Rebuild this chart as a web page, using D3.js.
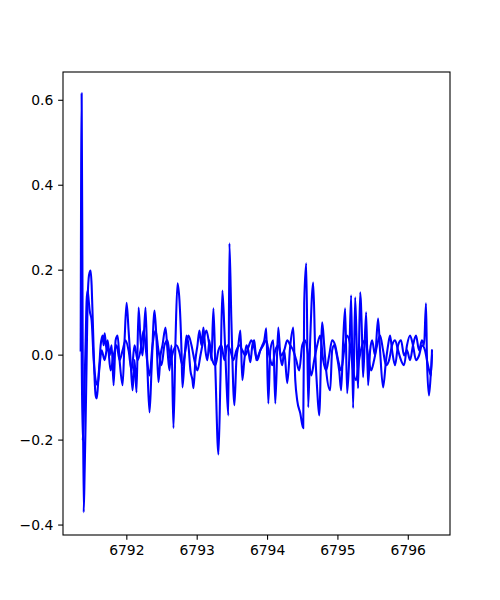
<!DOCTYPE html>
<html>
<head>
<meta charset="utf-8">
<script src="https://cdn.jsdelivr.net/npm/d3@7"></script>
<style>
  body { margin: 0; background: #fff; }
  text { font-family: "DejaVu Sans", sans-serif; }
</style>
</head>
<body>
<div id="chart"></div>
<script>
// values

// jagged trace
const xA = [6791.351,6791.365,6791.379,6791.394,6791.408,6791.422,6791.436,6791.450,6791.465,6791.479,6791.493,6791.507,6791.521,6791.536,6791.550,6791.564,6791.578,6791.592,6791.606,6791.621,6791.635,6791.663,6791.677,6791.692,6791.720,6791.734,6791.762,6791.791,6791.819,6791.848,6791.876,6791.904,6791.947,6791.975,6792.004,6792.032,6792.060,6792.089,6792.117,6792.145,6792.174,6792.202,6792.231,6792.273,6792.301,6792.330,6792.358,6792.401,6792.429,6792.457,6792.486,6792.514,6792.557,6792.585,6792.613,6792.642,6792.670,6792.699,6792.727,6792.755,6792.784,6792.798,6792.826,6792.855,6792.883,6792.911,6792.940,6792.954,6792.982,6793.011,6793.039,6793.067,6793.096,6793.124,6793.152,6793.181,6793.209,6793.238,6793.266,6793.309,6793.337,6793.365,6793.394,6793.422,6793.450,6793.465,6793.493,6793.536,6793.564,6793.592,6793.621,6793.649,6793.677,6793.706,6793.734,6793.762,6793.791,6793.819,6793.847,6793.876,6793.904,6793.933,6793.961,6793.989,6794.018,6794.046,6794.088,6794.117,6794.159,6794.188,6794.216,6794.244,6794.287,6794.330,6794.372,6794.401,6794.429,6794.472,6794.514,6794.528,6794.557,6794.585,6794.613,6794.656,6794.684,6794.713,6794.741,6794.784,6794.812,6794.840,6794.897,6794.925,6794.954,6794.996,6795.025,6795.053,6795.082,6795.110,6795.138,6795.167,6795.195,6795.223,6795.252,6795.280,6795.294,6795.323,6795.351,6795.365,6795.408,6795.436,6795.465,6795.493,6795.535,6795.578,6795.606,6795.649,6795.691,6795.720,6795.748,6795.777,6795.819,6795.862,6795.904,6795.947,6795.989,6796.032,6796.074,6796.117,6796.160,6796.202,6796.231,6796.259,6796.273,6796.301,6796.330,6796.344];
const yA = [0.010,0.615,0.057,-0.371,-0.272,-0.155,-0.013,0.128,0.180,0.194,0.198,0.163,0.092,0.010,-0.060,-0.096,-0.103,-0.084,-0.049,-0.013,0.022,0.045,0.022,0.050,0.010,0.034,-0.002,0.022,-0.072,0.034,0.045,-0.013,-0.072,0.034,0.122,0.057,-0.013,-0.084,-0.013,-0.089,0.111,0.034,-0.002,0.111,-0.037,-0.136,-0.037,0.104,0.034,-0.065,-0.002,0.022,0.064,0.010,-0.037,0.022,-0.173,0.034,0.168,0.128,0.010,-0.077,-0.013,0.045,0.022,-0.037,-0.060,-0.079,-0.013,0.022,0.057,0.022,0.064,0.010,-0.013,0.034,-0.013,0.109,-0.037,-0.235,-0.060,0.151,0.057,-0.060,-0.143,0.262,0.080,-0.119,-0.013,0.022,0.057,-0.060,-0.013,0.022,0.010,-0.018,0.022,0.034,-0.013,-0.002,0.010,0.022,0.034,0.062,-0.115,0.010,0.034,-0.115,0.064,-0.002,-0.025,0.010,-0.067,0.022,0.064,-0.060,-0.108,-0.138,-0.173,0.122,0.215,-0.124,0.034,0.170,0.010,-0.084,-0.143,0.076,0.022,-0.037,-0.084,0.010,0.022,-0.006,-0.037,-0.084,0.034,0.109,-0.091,-0.013,0.140,-0.126,0.135,-0.013,-0.079,0.147,0.034,-0.053,0.100,-0.072,0.010,0.034,-0.002,0.085,0.010,-0.077,-0.013,0.022,0.045,0.010,-0.025,0.022,0.034,-0.002,0.010,-0.013,0.022,0.045,0.010,0.034,0.022,0.121,-0.013,-0.096,-0.037,-0.002];

// smoother trace
const xB = [6791.365,6791.379,6791.394,6791.408,6791.422,6791.436,6791.450,6791.465,6791.479,6791.507,6791.536,6791.564,6791.592,6791.621,6791.649,6791.692,6791.734,6791.777,6791.819,6791.862,6791.904,6791.947,6791.989,6792.032,6792.075,6792.117,6792.160,6792.202,6792.245,6792.287,6792.330,6792.372,6792.415,6792.457,6792.500,6792.542,6792.585,6792.628,6792.670,6792.713,6792.755,6792.798,6792.840,6792.883,6792.926,6792.968,6793.011,6793.053,6793.096,6793.138,6793.181,6793.223,6793.266,6793.309,6793.351,6793.394,6793.436,6793.479,6793.521,6793.564,6793.606,6793.649,6793.691,6793.734,6793.777,6793.819,6793.862,6793.904,6793.947,6793.989,6794.032,6794.074,6794.117,6794.159,6794.202,6794.244,6794.287,6794.330,6794.372,6794.415,6794.457,6794.500,6794.542,6794.585,6794.628,6794.670,6794.713,6794.755,6794.798,6794.840,6794.883,6794.925,6794.968,6795.010,6795.053,6795.096,6795.138,6795.181,6795.223,6795.266,6795.308,6795.351,6795.394,6795.436,6795.479,6795.521,6795.564,6795.606,6795.649,6795.691,6795.734,6795.777,6795.819,6795.862,6795.904,6795.947,6795.989,6796.032,6796.074,6796.117,6796.160,6796.202,6796.245,6796.287,6796.330,6796.344];
const yB = [0.010,-0.202,-0.155,-0.060,0.034,0.128,0.151,0.128,0.104,0.080,-0.013,-0.060,-0.072,-0.025,0.010,-0.013,0.022,-0.037,-0.002,0.022,-0.013,0.010,0.034,0.010,-0.037,0.022,-0.013,0.010,0.057,-0.002,-0.049,0.022,0.057,0.010,-0.025,0.022,0.034,-0.013,0.010,0.022,0.005,-0.025,0.010,0.045,0.022,-0.013,-0.037,-0.002,0.034,0.057,0.022,-0.013,-0.025,0.010,0.022,-0.013,0.022,0.010,-0.013,0.010,0.022,0.010,-0.002,0.017,0.034,0.015,-0.013,0.010,0.022,0.034,-0.002,-0.025,0.010,0.022,-0.002,0.010,0.034,0.022,0.010,-0.013,-0.037,0.022,0.034,-0.002,-0.049,-0.013,0.022,0.045,-0.013,-0.037,-0.002,0.034,0.022,-0.013,-0.037,0.010,0.045,0.022,-0.037,-0.060,-0.013,0.022,0.034,-0.002,-0.037,-0.013,0.022,0.045,0.010,-0.025,-0.013,0.022,0.034,0.010,-0.013,-0.025,0.022,0.045,0.022,-0.013,-0.002,0.022,0.010,-0.025,-0.049,0.010];

const xTicks = [6792, 6793, 6794, 6795, 6796];
const yTicks = [-0.4, -0.2, 0.0, 0.2, 0.4, 0.6];

const width = 500, height = 600;
const margin = {top: 72, right: 50, bottom: 65, left: 63};

const svg = d3.select("#chart")
  .append("svg")
  .attr("width", width)
  .attr("height", height);

const xScale = d3.scaleLinear()
  .domain([6791.1, 6796.6])
  .range([margin.left, width - margin.right]);

const yScale = d3.scaleLinear()
  .domain([-0.4246, 0.6654])
  .range([height - margin.bottom, margin.top]);

// monotone curve keeps the peaks where they are but rounds the wiggles
const line = d3.line()
  .curve(d3.curveMonotoneX)
  .x(d => xScale(d[0]))
  .y(d => yScale(d[1]));

const seriesA = xA.map((x, i) => [x, yA[i]]);
const seriesB = xB.map((x, i) => [x, yB[i]]);

const plot = svg.append("g");

[seriesB, seriesA].forEach(s => {
  plot.append("path")
    .datum(s)
    .attr("fill", "none")
    .attr("stroke", "#0000ff")
    .attr("stroke-width", 2.08)
    .attr("stroke-linejoin", "round")
    .attr("stroke-linecap", "square")
    .attr("d", line);
});

const fmtMinus = d => d3.format(".1f")(d).replace("-", "\u2212");

const xAxis = svg.append("g")
  .attr("transform", `translate(0,${height - margin.bottom})`)
  .call(d3.axisBottom(xScale)
    .tickValues(xTicks)
    .tickFormat(d3.format("d"))
    .tickSize(4.86)
    .tickPadding(4.86));

const yAxis = svg.append("g")
  .attr("transform", `translate(${margin.left},0)`)
  .call(d3.axisLeft(yScale)
    .tickValues(yTicks)
    .tickFormat(fmtMinus)
    .tickSize(4.86)
    .tickPadding(4.86));

[xAxis, yAxis].forEach(g => {
  g.select(".domain").remove();
  g.selectAll(".tick line").attr("stroke", "#000").attr("stroke-width", 1.1);
  g.selectAll(".tick text")
    .attr("fill", "#000")
    .attr("font-size", "13.9px")
    .attr("font-family", "DejaVu Sans, sans-serif");
});

// frame
svg.append("rect")
  .attr("x", margin.left)
  .attr("y", margin.top)
  .attr("width", width - margin.left - margin.right)
  .attr("height", height - margin.top - margin.bottom)
  .attr("fill", "none")
  .attr("stroke", "#000")
  .attr("stroke-width", 1.1);
</script>
</body>
</html>
